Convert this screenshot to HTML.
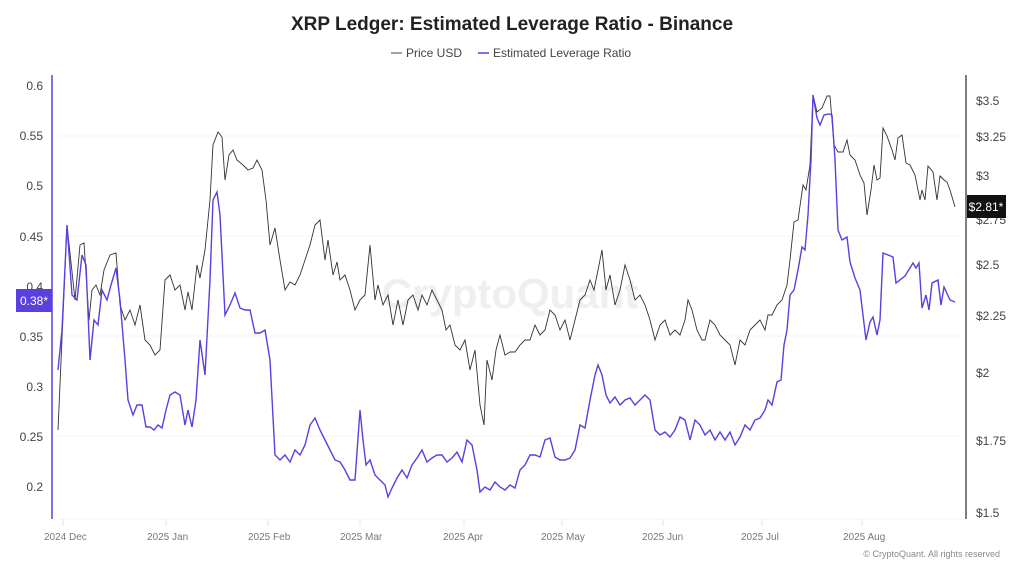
<!DOCTYPE html>
<html><head><meta charset="utf-8"><style>
body{margin:0;background:#fff;width:1024px;height:571px;overflow:hidden;font-family:"Liberation Sans",sans-serif}
</style></head><body>
<svg width="1024" height="571" viewBox="0 0 1024 571" xmlns="http://www.w3.org/2000/svg" font-family="Liberation Sans, sans-serif">
<text x="512" y="30" text-anchor="middle" font-size="19" font-weight="bold" fill="#222">XRP Ledger: Estimated Leverage Ratio - Binance</text>
<line x1="391" y1="53" x2="402" y2="53" stroke="#444" stroke-width="1"/>
<text x="406" y="57" font-size="12" fill="#444">Price USD</text>
<line x1="478" y1="53" x2="489" y2="53" stroke="#5b3fe0" stroke-width="1.5"/>
<text x="493" y="57" font-size="12" fill="#444">Estimated Leverage Ratio</text>
<g stroke="#f4f4f4" stroke-width="1">
<line x1="58" y1="136" x2="962" y2="136"/><line x1="58" y1="236" x2="962" y2="236"/><line x1="58" y1="336" x2="962" y2="336"/><line x1="58" y1="436" x2="962" y2="436"/>
<line x1="58" y1="519" x2="962" y2="519"/>
</g>
<g stroke="#e6e6e6"><line x1="63" y1="519" x2="63" y2="526"/><line x1="166" y1="519" x2="166" y2="526"/><line x1="268" y1="519" x2="268" y2="526"/><line x1="360" y1="519" x2="360" y2="526"/><line x1="464" y1="519" x2="464" y2="526"/><line x1="562" y1="519" x2="562" y2="526"/><line x1="663" y1="519" x2="663" y2="526"/><line x1="762" y1="519" x2="762" y2="526"/><line x1="862" y1="519" x2="862" y2="526"/></g>
<text x="510" y="308" text-anchor="middle" font-size="42" fill="#efefef" font-weight="bold">CryptoQuant</text>
<line x1="52" y1="75" x2="52" y2="519" stroke="#5b3fe0" stroke-width="1.5"/>
<line x1="966" y1="75" x2="966" y2="519" stroke="#555" stroke-width="1.5"/>
<g font-size="12" fill="#444" text-anchor="end">
<text x="43" y="90">0.6</text><text x="43" y="140">0.55</text><text x="43" y="190">0.5</text><text x="43" y="241">0.45</text><text x="43" y="291">0.4</text><text x="43" y="341">0.35</text><text x="43" y="391">0.3</text><text x="43" y="441">0.25</text><text x="43" y="491">0.2</text>
</g>
<g font-size="12" fill="#444">
<text x="976" y="105">$3.5</text><text x="976" y="141">$3.25</text><text x="976" y="180">$3</text><text x="976" y="224">$2.75</text><text x="976" y="269">$2.5</text><text x="976" y="320">$2.25</text><text x="976" y="377">$2</text><text x="976" y="445">$1.75</text><text x="976" y="517">$1.5</text>
</g>
<g font-size="10" fill="#777">
<text x="44" y="540">2024 Dec</text><text x="147" y="540">2025 Jan</text><text x="248" y="540">2025 Feb</text><text x="340" y="540">2025 Mar</text><text x="443" y="540">2025 Apr</text><text x="541" y="540">2025 May</text><text x="642" y="540">2025 Jun</text><text x="741" y="540">2025 Jul</text><text x="843" y="540">2025 Aug</text>
</g>
<text x="1000" y="557" text-anchor="end" font-size="9" fill="#888">© CryptoQuant. All rights reserved</text>
<polyline fill="none" stroke="#333" stroke-width="0.9" points="58,430 67,225 75,300 80,245 84,243 89,320 92,290 96,285 100,295 104,270 110,255 116,253 120,305 125,320 130,310 135,325 140,305 145,340 150,345 155,355 160,350 165,280 170,275 175,290 180,285 185,310 188,292 192,310 197,265 200,278 205,250 210,200 213,145 218,132 222,137 225,180 229,155 233,150 237,160 243,165 248,170 253,168 257,160 262,170 266,200 270,245 275,228 280,260 285,290 290,282 295,285 300,275 305,260 310,245 315,225 320,220 325,260 328,240 333,275 337,262 340,280 345,275 350,290 355,310 360,300 365,295 370,245 375,300 378,285 383,305 388,295 393,325 398,300 403,325 408,300 413,295 418,310 422,295 427,305 432,290 437,300 442,310 446,330 450,325 455,345 460,350 465,340 470,370 475,350 480,405 484,425 487,360 492,380 496,350 500,335 505,355 510,352 515,352 520,345 525,340 530,340 535,325 540,335 545,330 550,310 555,315 560,330 565,320 570,340 575,320 580,300 585,295 590,280 594,290 598,270 602,250 606,290 610,275 615,305 620,290 625,265 630,280 635,300 640,295 645,305 650,320 655,340 660,325 665,320 670,335 675,330 680,335 685,320 688,300 692,310 697,330 702,340 705,340 710,320 715,325 720,335 725,340 730,345 735,365 740,340 745,345 750,330 755,325 760,320 765,330 768,315 772,315 777,305 782,300 787,285 790,260 794,222 798,220 803,185 806,190 810,165 813,95 817,112 822,108 827,96 830,96 834,145 838,152 843,152 847,140 850,155 855,160 860,175 864,183 867,215 871,190 874,165 877,180 880,178 883,128 887,136 892,150 895,160 898,138 902,135 906,163 910,165 915,175 920,200 922,190 925,200 928,166 933,172 937,200 940,176 944,180 947,182 950,190 955,207"/>
<polyline fill="none" stroke="#5b3fe0" stroke-width="1.4" points="58,370 62,330 67,225 72,295 77,300 82,255 86,265 90,360 94,320 98,325 102,290 107,300 111,285 116,268 120,300 125,360 128,400 133,415 137,405 142,405 146,427 150,427 154,430 158,425 162,428 166,410 170,395 175,392 180,395 185,425 188,410 192,427 196,400 200,340 205,375 210,280 213,200 217,192 220,215 225,315 230,305 235,293 240,308 245,310 250,310 255,333 260,333 265,330 270,360 275,455 280,460 285,455 290,462 295,450 300,455 305,445 310,425 315,418 320,430 325,440 330,450 335,460 340,462 345,470 350,480 355,480 360,410 363,440 366,465 370,460 375,475 380,480 385,485 388,497 392,488 397,478 402,470 407,478 412,465 417,458 422,450 427,462 432,458 437,455 442,455 447,462 452,458 457,452 462,462 467,440 472,445 477,470 480,492 485,487 490,490 495,482 500,487 505,490 510,485 515,488 520,470 525,465 530,455 535,455 540,457 545,440 550,438 555,457 560,460 565,460 570,458 575,450 580,425 585,428 590,400 595,375 598,365 602,375 606,395 610,403 615,397 620,405 625,400 630,398 635,405 640,400 645,395 650,400 655,430 660,435 665,432 670,437 675,430 680,417 685,420 690,440 695,420 700,425 705,435 710,430 715,440 720,432 725,440 730,432 735,445 740,437 745,425 750,430 755,420 760,418 765,410 768,400 772,405 777,382 781,380 784,345 787,330 790,295 794,290 798,270 802,247 805,250 808,215 811,160 813,95 817,118 820,125 824,115 829,114 832,115 835,160 838,230 842,240 847,237 850,262 855,278 860,290 866,340 870,322 873,317 877,335 880,320 883,253 893,257 896,283 905,276 913,263 916,268 919,263 922,308 926,295 929,310 932,283 938,280 941,305 944,287 950,300 955,302"/>
<rect x="16" y="289" width="36" height="23" fill="#5b3fe0"/>
<text x="34" y="305" text-anchor="middle" font-size="12" fill="#fff">0.38*</text>
<rect x="967" y="195" width="39" height="23" fill="#111"/>
<text x="986" y="211" text-anchor="middle" font-size="12" fill="#fff">$2.81*</text>
</svg>
</body></html>
